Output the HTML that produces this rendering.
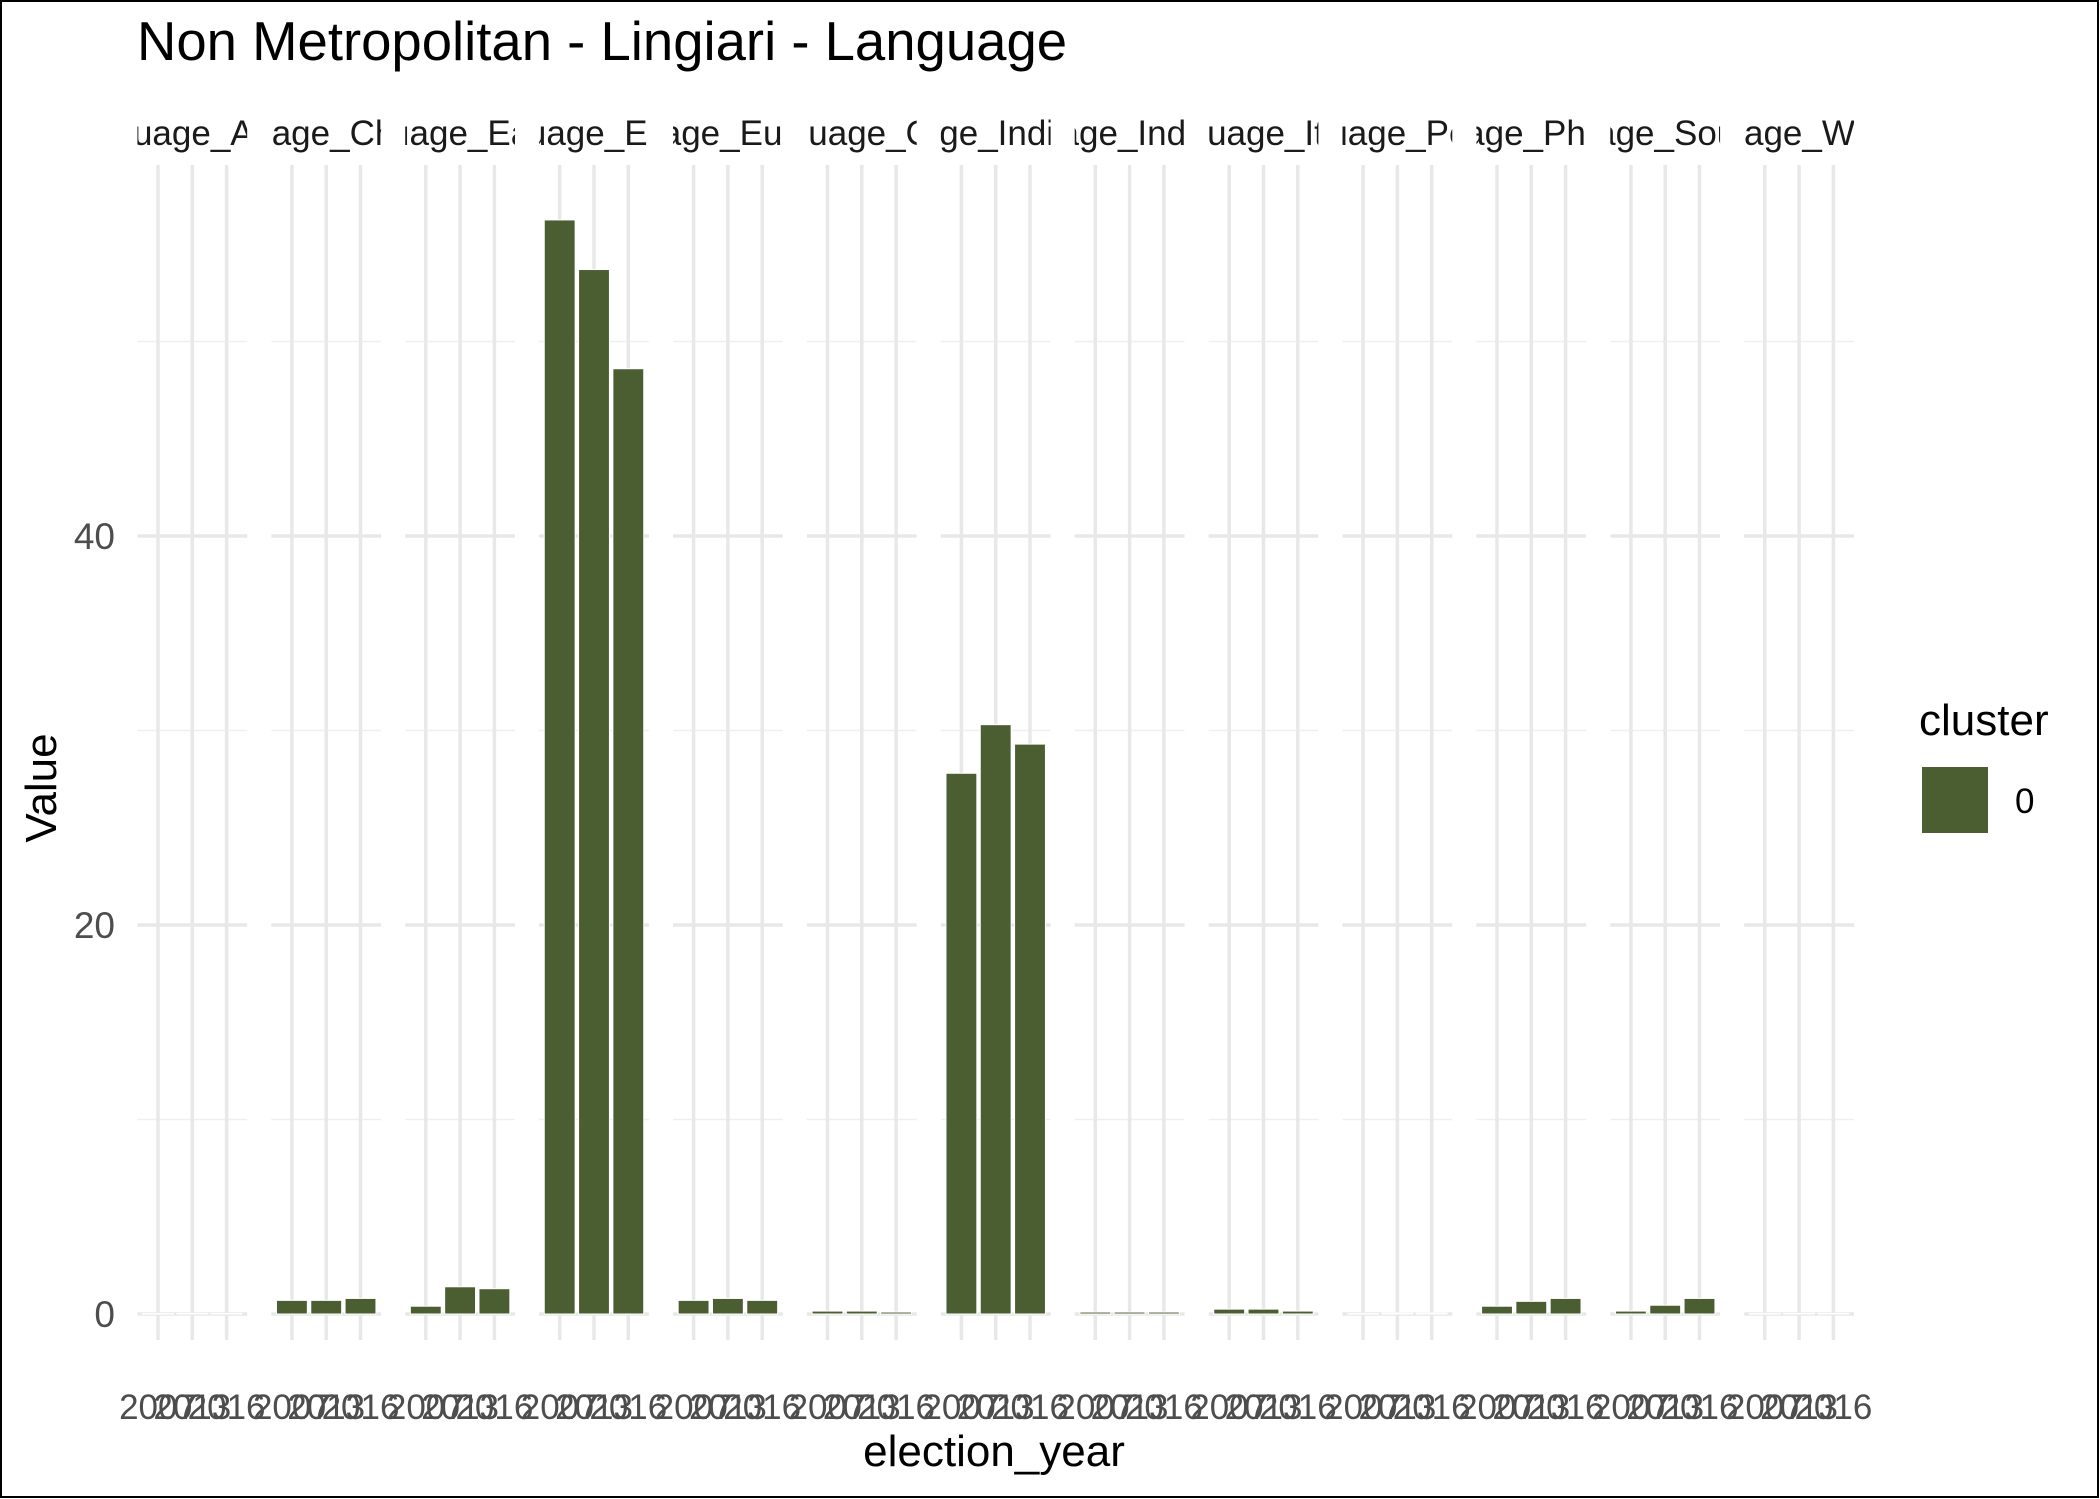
<!DOCTYPE html>
<html><head><meta charset="utf-8"><style>
html,body{margin:0;padding:0;background:#fff}
svg{display:block;font-family:"Liberation Sans",Arial,sans-serif}
</style></head><body>
<svg id="chart" width="2100" height="1499" viewBox="0 0 2100 1499">
<rect x="1" y="1" width="2097" height="1496" fill="#fff" stroke="#000" stroke-width="2"/>
<text x="137" y="60" font-size="54.5" fill="#000">Non Metropolitan - Lingiari - Language</text>
<g id="panels"></g>
<text transform="translate(56,788) rotate(-90)" text-anchor="middle" font-size="44" fill="#000">Value</text>
<text x="994" y="1466" text-anchor="middle" font-size="44" fill="#000">election_year</text>
<g>
<text x="1919" y="735" font-size="44" fill="#000">cluster</text>
<rect x="1922" y="767" width="66" height="66" fill="#4a5e31"/>
<text x="2015" y="813" font-size="35" fill="#000">0</text>
</g>
</svg>
<script>
const panelNames = ["Language_Arabic","Language_Chinese","Language_Eastern","Language_English","Language_European","Language_Other","Language_Indigenous","Language_IndoAryan","Language_Italian","Language_Persian","Language_Philippine","Language_Southeast","Language_Western"];
const years = ["2007","2013","2016"];
const values = [
 [0.02,0.03,0.03],
 [0.7,0.7,0.8],
 [0.4,1.4,1.3],
 [56.25,53.7,48.6],
 [0.7,0.8,0.7],
 [0.15,0.15,0.1],
 [27.8,30.3,29.3],
 [0.1,0.1,0.1],
 [0.25,0.25,0.15],
 [0.02,0.05,0.05],
 [0.4,0.65,0.8],
 [0.15,0.45,0.8],
 [0.02,0.03,0.03]
];
const yTicks = [0,20,40];
const yMinor = [10,30,50];

const NS = "http://www.w3.org/2000/svg";
const g = document.getElementById("panels");
const y0 = 1314, perUnit = 19.45, yTop = 165, yBot = 1340;
const yS = v => y0 - v*perUnit;
const pitch = 133.9, step = 34.3, firstX = 158;
const xS = (p,i) => firstX + p*pitch + i*step;
function mk(tag, attrs){const e=document.createElementNS(NS,tag);for(const k in attrs)e.setAttribute(k,attrs[k]);return e;}

const defs = mk("defs",{});
g.appendChild(defs);

panelNames.forEach((name,p)=>{
  const left = xS(p,0) - 0.6*step, right = xS(p,2) + 0.6*step;
  const pg = mk("g",{});
  
  
  g.appendChild(pg);
  yMinor.forEach(v=>{
    const l = mk("line",{x1:left,x2:right,y1:yS(v),y2:yS(v),stroke:"#efefef","stroke-width":1.5});
    
    
    pg.appendChild(l);
  });
  yTicks.forEach(v=>{
    const l = mk("line",{x1:left,x2:right,y1:yS(v),y2:yS(v),stroke:"#e8e8e8","stroke-width":3.5});
    
    
    pg.appendChild(l);
  });
  years.forEach((yr,i)=>{
    const l = mk("line",{x1:xS(p,i),x2:xS(p,i),y1:yTop,y2:yBot,stroke:"#e8e8e8","stroke-width":3.5});
    
    
    pg.appendChild(l);
  });
  years.forEach((yr,i)=>{
    const v = values[p][i];
    const w = 0.9*step;
    const r = mk("rect",{x:xS(p,i)-w/2,y:yS(v),width:w,height:Math.max(y0-yS(v),0.5),fill:"#4a5e31",stroke:"#fff","stroke-width":1});
    
    
    pg.appendChild(r);
    const t = mk("text",{x:xS(p,i),y:1419,"text-anchor":"middle","font-size":35,fill:"#4d4d4d"});
    t.textContent = yr;
    
    
    pg.appendChild(t);
  });
  const cid = "clip"+p;
  const cp = mk("clipPath",{id:cid});
  cp.appendChild(mk("rect",{x:left,y:100,width:right-left,height:60}));
  defs.appendChild(cp);
  const st = mk("text",{x:(left+right)/2,y:145,"text-anchor":"middle","font-size":35,fill:"#1a1a1a","clip-path":"url(#"+cid+")"});
  st.textContent = name;
  
  
  pg.appendChild(st);
});
yTicks.forEach(v=>{
  const t = mk("text",{x:115,y:yS(v)+13,"text-anchor":"end","font-size":37,fill:"#4d4d4d"});
  t.textContent = v;
  
  
  g.appendChild(t);
});
</script>
</body></html>
